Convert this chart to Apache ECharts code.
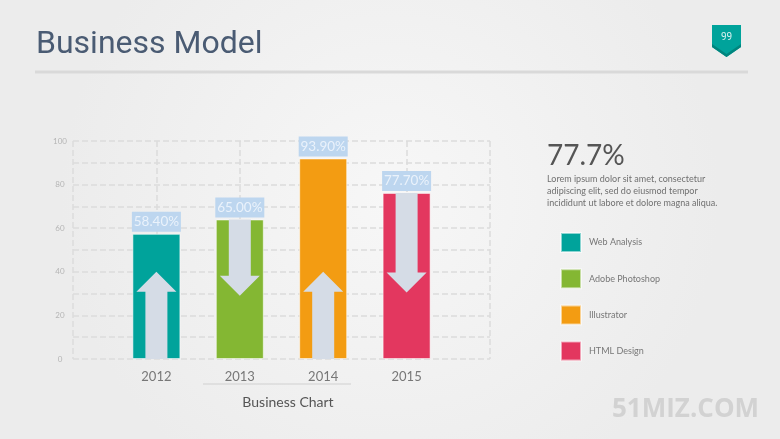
<!DOCTYPE html>
<html>
<head>
<meta charset="utf-8">
<script src="https://cdn.jsdelivr.net/npm/echarts@6/dist/echarts.min.js"></script>
<style>
html,body{margin:0;padding:0;background:#f2f2f2;}
#chart{width:780px;height:439px;}
</style>
</head>
<body>
<div id="chart"></div>
<script>
// ---- data ----
const categories = ['2012', '2013', '2014', '2015'];
const barValues = [57.4, 64, 92, 76.2];
const labelTexts = ['58.40%', '65.00%', '93.90%', '77.70%'];
const arrowDirs = [1, -1, 1, -1];          // 1 = up, -1 = down
const arrowTips = [40, 29, 40, 30.5];
const legendNames = ['Web Analysis', 'Adobe Photoshop', 'Illustrator', 'HTML Design'];
const yTickLabels = [0, 20, 40, 60, 80, 100];
const headline = '77.7%';
const loremLines = [
  'Lorem ipsum dolor sit amet, consectetur',
  'adipiscing elit, sed do eiusmod tempor',
  'incididunt ut labore et dolore magna aliqua.'
];

const barColors = ['#00a39b', '#84b733', '#f39c12', '#e3375f'];
const xCats = [''].concat(categories).concat(['']);

const chart = echarts.init(document.getElementById('chart'));

const barSeries = legendNames.map(function (name, i) {
  const data = xCats.map(function () { return '-'; });
  data[i + 1] = barValues[i];
  return {
    name: name,
    type: 'bar',
    data: data,
    barWidth: 48,
    barGap: '-100%',
    z: 2,
    itemStyle: { color: barColors[i], borderColor: 'rgba(255,255,255,0.55)', borderWidth: 1 },
    label: {
      show: true,
      position: 'top',
      distance: 2,
      formatter: function () { return labelTexts[i]; },
      backgroundColor: '#bdd6ef',
      color: '#eaf2fb',
      fontFamily: 'Lato',
      fontSize: 13.5,
      width: 49,
      height: 20,
      lineHeight: 20,
      align: 'center',
      padding: 0
    },
    emphasis: { disabled: true }
  };
});

const arrowData = categories.map(function (c, i) {
  return [i + 1, barValues[i], arrowTips[i], arrowDirs[i]];
});

const arrowSeries = {
  type: 'custom',
  z: 5,
  silent: true,
  data: arrowData,
  renderItem: function (params, api) {
    const x = api.value(0);
    const top = api.value(1);
    const tip = api.value(2);
    const dir = api.value(3);
    const p0 = api.coord([x, 0]);
    const pTop = api.coord([x, top]);
    const pTip = api.coord([x, tip]);
    const cx = p0[0];
    const sw = 11, hw = 20, hh = 20;
    let pts;
    if (dir > 0) {
      const yb = pTip[1] + hh;
      pts = [[cx - sw, p0[1]], [cx - sw, yb], [cx - hw, yb], [cx, pTip[1]], [cx + hw, yb], [cx + sw, yb], [cx + sw, p0[1]]];
    } else {
      const yb = pTip[1] - hh;
      pts = [[cx - sw, pTop[1]], [cx - sw, yb], [cx - hw, yb], [cx, pTip[1]], [cx + hw, yb], [cx + sw, yb], [cx + sw, pTop[1]]];
    }
    return { type: 'polygon', shape: { points: pts }, style: { fill: '#d5dce6' } };
  }
};

const dashed = { color: '#dcdcdc', width: 1.5, type: [6, 3] };

chart.setOption({
  backgroundColor: {
    type: 'radial', x: 0.5, y: 0.45, r: 0.75,
    colorStops: [{ offset: 0, color: '#f7f7f7' }, { offset: 1, color: '#ececec' }]
  },
  animation: false,
  legend: {
    orient: 'vertical',
    left: 555,
    top: 227,
    itemWidth: 20,
    itemHeight: 19,
    itemGap: 15.2,
    icon: 'rect',
    selectedMode: false,
    data: legendNames,
    textStyle: { fontFamily: 'Lato', fontSize: 9, color: '#777', padding: [0, 0, 0, 3] }
  },
  grid: { left: 73, top: 141, width: 417, height: 218 },
  xAxis: {
    type: 'category',
    data: xCats,
    boundaryGap: false,
    axisLine: { show: false },
    axisTick: { show: false },
    splitLine: { show: true, lineStyle: dashed },
    axisLabel: { color: '#777', fontFamily: 'Lato', fontSize: 13, margin: 11, interval: 0 }
  },
  yAxis: {
    type: 'value',
    min: 0,
    max: 100,
    interval: 10,
    axisLine: { show: false },
    axisTick: { show: false },
    splitLine: { lineStyle: dashed },
    axisLabel: {
      color: '#b5b5b5', fontFamily: 'Lato', fontSize: 8, margin: 13, align: 'center',
      formatter: function (v) { return yTickLabels.indexOf(v) >= 0 ? String(v) : ''; }
    }
  },
  graphic: [
    { type: 'text', left: 36, top: 29, style: { text: 'Business Model', fontFamily: 'Roboto', fontSize: 32, fill: '#4a5b73' } },
    { type: 'rect', shape: { x: 35, y: 70.5, width: 713, height: 3 }, style: { fill: '#d9d9d9' } },
    { type: 'polygon', shape: { points: [[712, 25], [741, 25], [741, 47], [726.5, 57], [712, 47]] }, style: { fill: '#00a39b' } },
    { type: 'polygon', shape: { points: [[712, 44], [726.5, 54], [741, 44], [741, 47], [726.5, 57], [712, 47]] }, style: { fill: '#00857e' } },
    { type: 'text', x: 726.5, y: 37, style: { text: '99', fontFamily: 'Roboto', fontSize: 10, fill: '#d4f0ee', align: 'center', verticalAlign: 'middle' } },
    { type: 'text', left: 547, top: 142, style: { text: headline, fontFamily: 'Lato', fontSize: 28, fill: '#555' } },
    { type: 'text', left: 547, top: 173.5, style: { text: loremLines.join('\n'), fontFamily: 'Lato', fontSize: 9, lineHeight: 11.8, fill: '#707070' } },
    { type: 'rect', shape: { x: 203, y: 383.5, width: 148, height: 1 }, style: { fill: '#d0d0d0' } },
    { type: 'text', x: 288, y: 402, style: { text: 'Business Chart', fontFamily: 'Lato', fontSize: 14, fill: '#555', align: 'center', verticalAlign: 'middle' } },
    { type: 'text', x: 612, y: 409.5, style: { text: '51MIZ.COM', fontFamily: 'Open Sans', fontWeight: 'bold', fontSize: 26, fill: '#d2d2d2', verticalAlign: 'middle' } }
  ],
  series: barSeries.concat([arrowSeries])
});
</script>
</body>
</html>
